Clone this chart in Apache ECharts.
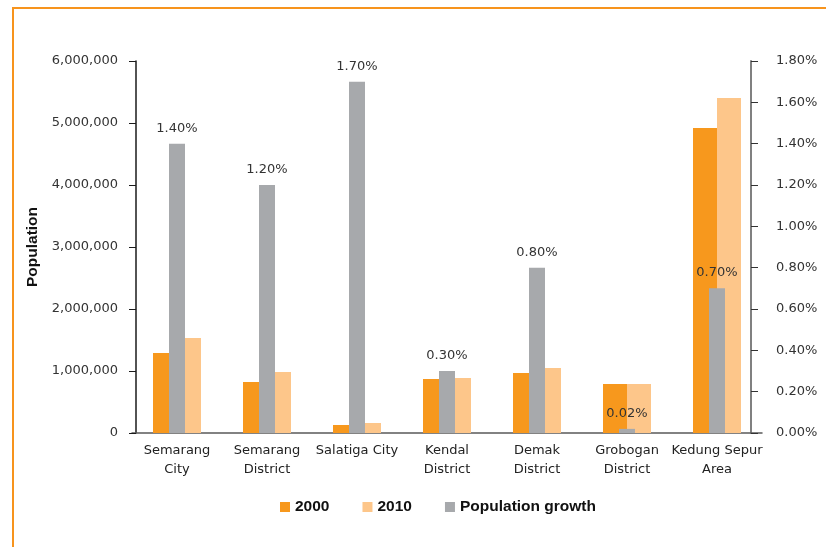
<!DOCTYPE html>
<html>
<head>
<meta charset="utf-8">
<script src="https://cdn.jsdelivr.net/npm/echarts@6/dist/echarts.min.js"></script>
<style>
  html, body { margin: 0; padding: 0; background: #fff; }
  #chart { width: 826px; height: 547px; }
  .frame { position: absolute; left: 12px; top: 7px; width: 900px; height: 700px;
    border-top: 2.5px solid #f7941d; border-left: 2.5px solid #f7941d; pointer-events: none; }
</style>
</head>
<body>
<div id="chart"></div>
<div class="frame"></div>
<script>
var categories = ['Semarang\nCity', 'Semarang\nDistrict', 'Salatiga City', 'Kendal\nDistrict', 'Demak\nDistrict', 'Grobogan\nDistrict', 'Kedung Sepur\nArea'];
var pop2000 = [1290000, 823000, 129000, 871000, 968000, 790000, 4919000];
var pop2010 = [1532000, 984000, 161000, 887000, 1048000, 790000, 5403000];
// percent
var growth = [1.40, 1.20, 1.70, 0.30, 0.80, 0.02, 0.70];

var chart = echarts.init(document.getElementById('chart'));
var axisFont = 'DejaVu Sans';

var option = {
    animation: false,
    color: ['#f7981d', '#fdc68a', '#a7a9ac'],
    legend: {
        data: ['2000', '2010', 'Population growth'],
        left: 275,
        top: 494,
        icon: 'rect',
        itemWidth: 10,
        itemHeight: 10,
        itemGap: 33,
        textStyle: {
            fontFamily: 'Liberation Sans',
            fontWeight: 'bold',
            fontSize: 15.5,
            color: '#111'
        }
    },
    grid: {
        left: 132,
        right: 64,
        top: 61,
        bottom: 114
    },
    xAxis: [
        {
            type: 'category',
            data: categories,
            axisLine: { show: true, lineStyle: { color: '#595959', width: 1.5 } },
            axisTick: { show: false },
            axisLabel: {
                interval: 0,
                margin: 8,
                fontFamily: axisFont,
                fontSize: 13,
                lineHeight: 19,
                color: '#222'
            }
        },
        {
            type: 'category',
            data: categories,
            show: false
        }
    ],
    yAxis: [
        {
            type: 'value',
            min: 0,
            max: 6000000,
            interval: 1000000,
            offset: -4,
            name: 'Population',
            nameLocation: 'middle',
            nameGap: 95,
            nameTextStyle: {
                fontFamily: 'Liberation Sans',
                fontWeight: 'bold',
                fontSize: 15.5,
                color: '#111'
            },
            axisLine: { show: true, lineStyle: { color: '#1a1a1a', width: 1.5 } },
            axisTick: { show: true, length: 7, lineStyle: { color: '#1a1a1a' } },
            splitLine: { show: false },
            axisLabel: {
                margin: 18,
                fontFamily: axisFont,
                fontSize: 13,
                color: '#333',
                formatter: function (v) { return v.toLocaleString('en-US'); }
            }
        },
        {
            type: 'value',
            position: 'right',
            min: 0,
            max: 1.8,
            interval: 0.2,
            offset: -11,
            axisLine: { show: true, lineStyle: { color: '#808080', width: 2 } },
            axisTick: { show: true, length: 7, lineStyle: { color: '#333' } },
            splitLine: { show: false },
            axisLabel: {
                margin: 25,
                fontFamily: axisFont,
                fontSize: 13,
                color: '#333',
                formatter: function (v) { return v.toFixed(2) + '%'; }
            }
        }
    ],
    series: [
        {
            name: '2000',
            type: 'bar',
            xAxisIndex: 0,
            yAxisIndex: 0,
            data: pop2000,
            barWidth: 24,
            barGap: '0%',
            z: 2
        },
        {
            name: '2010',
            type: 'bar',
            xAxisIndex: 0,
            yAxisIndex: 0,
            data: pop2010,
            barWidth: 24,
            barGap: '0%',
            z: 2
        },
        {
            name: 'Population growth',
            type: 'bar',
            xAxisIndex: 1,
            yAxisIndex: 1,
            data: growth,
            barWidth: 16,
            z: 3,
            label: {
                show: true,
                position: 'top',
                distance: 9,
                fontFamily: axisFont,
                fontSize: 13,
                color: '#333',
                formatter: function (p) { return p.value.toFixed(2) + '%'; }
            }
        }
    ]
};
chart.setOption(option);
window.addEventListener('resize', function () {
    chart.resize();
});
</script>
</body>
</html>
